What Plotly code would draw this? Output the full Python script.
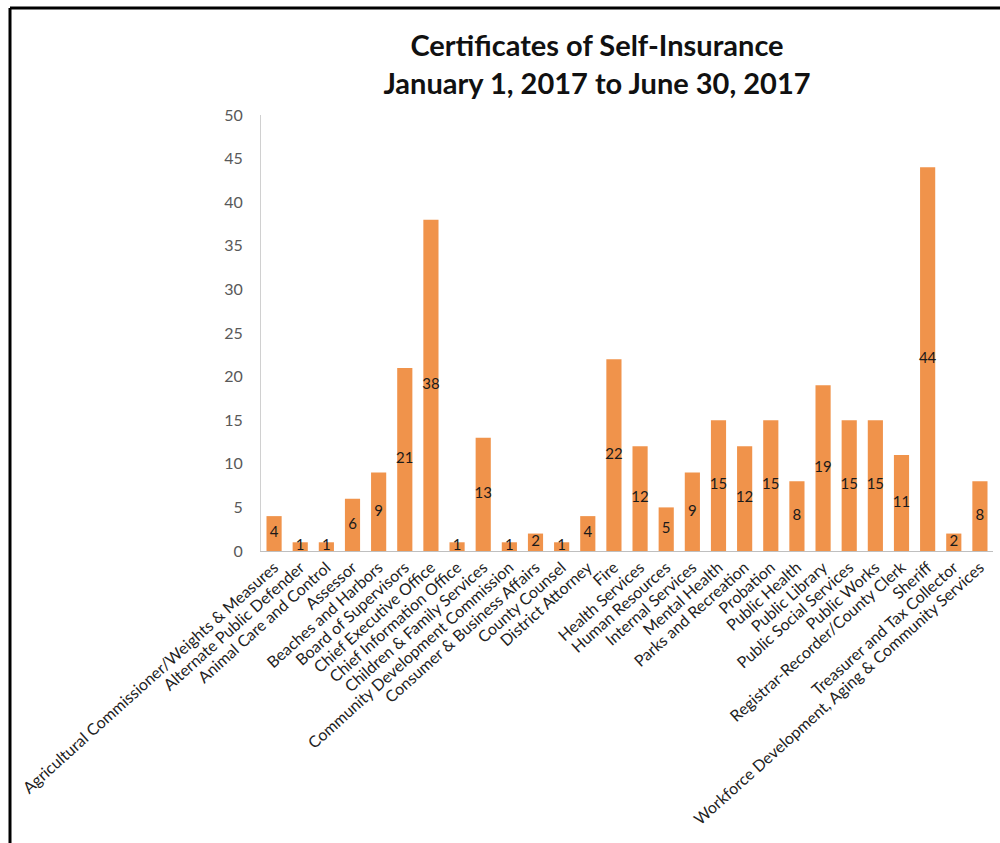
import plotly.graph_objects as go

categories = [
    "Agricultural Commissioner/Weights & Measures",
    "Alternate Public Defender",
    "Animal Care and Control",
    "Assessor",
    "Beaches and Harbors",
    "Board of Supervisors",
    "Chief Executive Office",
    "Chief Information Office",
    "Children & Family Services",
    "Community Development Commission",
    "Consumer & Business Affairs",
    "County Counsel",
    "District Attorney",
    "Fire",
    "Health Services",
    "Human Resources",
    "Internal Services",
    "Mental Health",
    "Parks and Recreation",
    "Probation",
    "Public Health",
    "Public Library",
    "Public Social Services",
    "Public Works",
    "Registrar-Recorder/County Clerk",
    "Sheriff",
    "Treasurer and Tax Collector",
    "Workforce Development, Aging & Community Services",
]
values = [4, 1, 1, 6, 9, 21, 38, 1, 13, 1, 2, 1, 4, 22, 12, 5, 9, 15, 12, 15, 8, 19, 15, 15, 11, 44, 2, 8]
y_ticks = [0, 5, 10, 15, 20, 25, 30, 35, 40, 45, 50]

FONT = "Lato"
W, H = 1000, 843
L, R, T, B = 261, 7, 115, 292
pw, ph = W - L - R, H - T - B

fig = go.Figure()
fig.add_trace(go.Bar(
    x=categories, y=values,
    marker=dict(color="#F0934B", line=dict(width=0)),
    hoverinfo="x+y",
))
fig.add_trace(go.Scatter(
    x=categories, y=[v / 2 for v in values],
    mode="text", text=[str(v) for v in values],
    textfont=dict(family=FONT, size=15, color="#1a1a1a"),
    textposition="middle center",
    hoverinfo="skip",
))

def px_x(p):
    return (p - L) / pw

def px_y(p):
    return (H - B - p) / ph

fig.update_layout(
    width=W, height=H,
    margin=dict(l=L, r=R, t=T, b=B, autoexpand=False),
    paper_bgcolor="white", plot_bgcolor="white",
    showlegend=False,
    bargap=0.42,
    title=dict(
        text="Certificates of Self-Insurance<br>January 1, 2017 to June 30, 2017",
        font=dict(family=FONT, size=29, color="#111111", weight="bold"),
        x=(597 - L) / pw, xref="paper", xanchor="center",
        y=1 - 56 / H, yref="container", yanchor="top",
    ),
    xaxis=dict(
        type="category",
        range=[-0.5, len(categories) - 0.5],
        tickangle=-42,
        tickfont=dict(family=FONT, size=16, color="#222222"),
        showline=True, linecolor="#BFBFBF", linewidth=1,
        showgrid=False, ticks="", fixedrange=True, automargin=False,
    ),
    yaxis=dict(
        range=[0, 50], tickvals=y_ticks,
        tickfont=dict(family=FONT, size=16, color="#595959"),
        showline=True, linecolor="#D0D0D0", linewidth=1,
        showgrid=False, zeroline=False, ticks="", ticklabelstandoff=14,
        automargin=False,
    ),
    shapes=[
        dict(type="line", xref="paper", yref="paper",
             x0=px_x(10), x1=px_x(10), y0=px_y(8), y1=px_y(843),
             line=dict(color="black", width=3)),
        dict(type="line", xref="paper", yref="paper",
             x0=px_x(10), x1=px_x(1000), y0=px_y(8), y1=px_y(8),
             line=dict(color="black", width=3)),
    ],
)

fig.write_html("out.html")
